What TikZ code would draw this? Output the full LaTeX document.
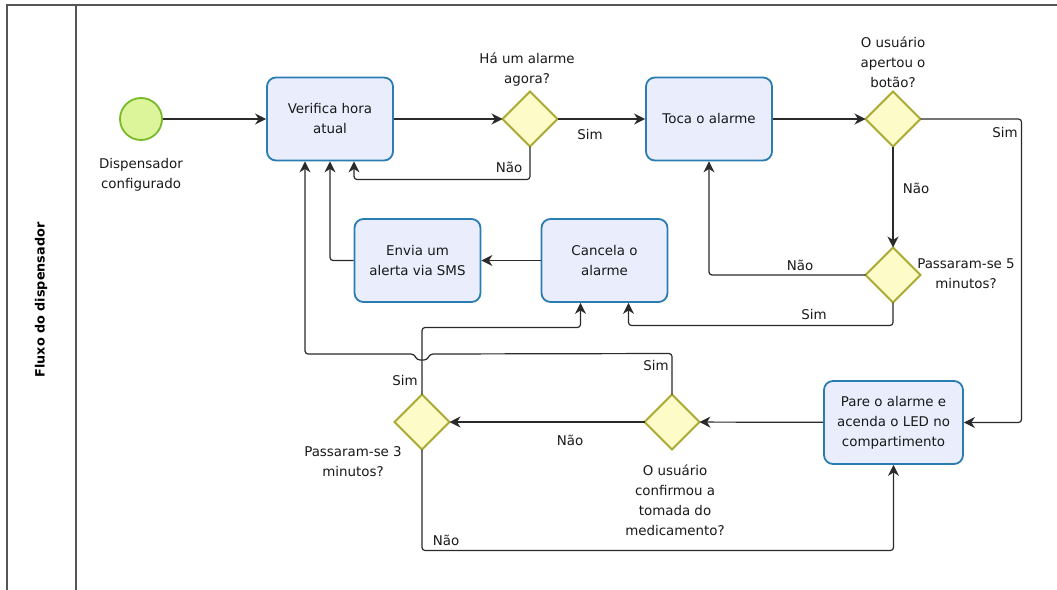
\documentclass[tikz,border=0pt]{standalone}
\usepackage{fontspec}
\setmainfont{DejaVu Sans}
\usetikzlibrary{shapes.geometric,arrows.meta,calc}
\definecolor{taskfill}{HTML}{E9EDFC}
\definecolor{taskborder}{HTML}{2A7DB0}
\definecolor{gatefill}{HTML}{FDFCC8}
\definecolor{gateborder}{HTML}{A9A933}
\definecolor{startfill}{HTML}{DDF59A}
\definecolor{startborder}{HTML}{78B82A}
\definecolor{linecol}{HTML}{2A2A2A}
\definecolor{framecol}{HTML}{555555}
\tikzset{
  txt/.style={font=\fontsize{13.4}{20}\selectfont, align=center, inner sep=0pt, text=black!90},
  task/.style={txt, draw=taskborder, fill=taskfill, line width=1.8pt, rounded corners=9pt,
               minimum width=126pt, minimum height=83pt},
  gate/.style={diamond, shape aspect=1, draw=gateborder, fill=gatefill, line width=1.8pt,
               minimum width=55pt, minimum height=55pt, inner sep=0pt, outer sep=0pt},
  startev/.style={circle, draw=startborder, fill=startfill, line width=1.8pt, minimum size=42pt, inner sep=0pt},
  flow/.style={draw=linecol, line width=1.2pt, rounded corners=3pt,
               -{Stealth[length=11pt,width=11pt,inset=3.5pt]}},
  lbl/.style={txt}
}
\begin{document}
\begin{tikzpicture}[x=1pt,y=-1pt]
\useasboundingbox (0,0) rectangle (1057,589);
% pool / lane
\draw[framecol, line width=1.2pt] (7,5) rectangle (1064,600);
\draw[framecol, line width=1.2pt] (76,5) -- (76,600);
\node[rotate=90, font=\fontsize{12.8}{15}\selectfont\bfseries] (lane) at (41,300) {Fluxo do dispensador};

% nodes
\node[startev] (s) at (141,119) {};
\node[lbl] (sl) at (141,175) {Dispensador\\configurado};
\node[task] (v) at (330,119) {Verifica hora\\atual};
\node[gate] (d1) at (530,119) {};
\node[lbl] (d1l) at (527,70) {Há um alarme\\agora?};
\node[task] (toca) at (709,119) {Toca o alarme};
\node[gate] (d2) at (893,119) {};
\node[lbl] (d2l) at (893,62) {O usuário\\apertou o\\botão?};
\node[gate] (d3) at (893,275) {};
\node[lbl] (d3l) at (966,274) {Passaram-se 5\\minutos?};
\node[task] (cancela) at (604.5,260.5) {Cancela o\\alarme};
\node[task] (envia) at (417.5,260.5) {Envia um\\alerta via SMS};
\node[task, minimum width=139pt] (pare) at (893.5,422.5) {Pare o alarme e\\acenda o LED no\\compartimento};
\node[gate] (d4) at (672,422) {};
\node[lbl] (d4l) at (675,500) {O usuário\\confirmou a\\tomada do\\medicamento?};
\node[gate] (d5) at (422,422) {};
\node[lbl] (d5l) at (353,462) {Passaram-se 3\\minutos?};

% connectors
\draw[flow] (s) -- (v);
\draw[flow] (v) -- (d1);
\draw[flow] (d1) -- (toca);
\draw[flow] (d1.south) -- ++(0,33) -| ([xshift=24pt]v.south);
\draw[flow] (toca) -- (d2);
\draw[flow] (d2.east) -- ++(101,0) |- (pare.east);
\draw[flow] (d2) -- (d3);
\draw[flow] (d3.west) -| (toca.south);
\draw[flow] (d3.south) -- ++(0,23) -| ([xshift=24pt]cancela.south);
\draw[flow] (cancela) -- (envia);
\draw[flow] (envia.west) -| (v.south);
\draw[flow] (pare) -- (d4);
\draw[flow] (d4) -- (d5);
\draw[flow] (d4.north) -- ++(0,-41) -- ($(d5.north |- 0,354)+(8,0)$) -- ($(d5.north |- 0,360)+(5,0)$)
   -- ($(d5.north |- 0,360)+(-5,0)$) -- ($(d5.north |- 0,354)+(-8,0)$) -| ([xshift=-25pt]v.south);
\draw[flow] (d5.north) -- ++(0,-67) -| ([xshift=-24pt]cancela.south);
\draw[flow] (d5.south) -- ++(0,101) -| (pare.south);

% edge labels
\node[lbl] (e1) at (590,135) {Sim};
\node[lbl] (e2) at (509,167) {Não};
\node[lbl] (e3) at (1005,133) {Sim};
\node[lbl] (e4) at (916,188) {Não};
\node[lbl] (e5) at (800,265) {Não};
\node[lbl] (e6) at (814,315) {Sim};
\node[lbl] (e7) at (570,440) {Não};
\node[lbl] (e8) at (656,365) {Sim};
\node[lbl] (e9) at (405,380) {Sim};
\node[lbl] (e10) at (446,540) {Não};
\end{tikzpicture}
\end{document}
